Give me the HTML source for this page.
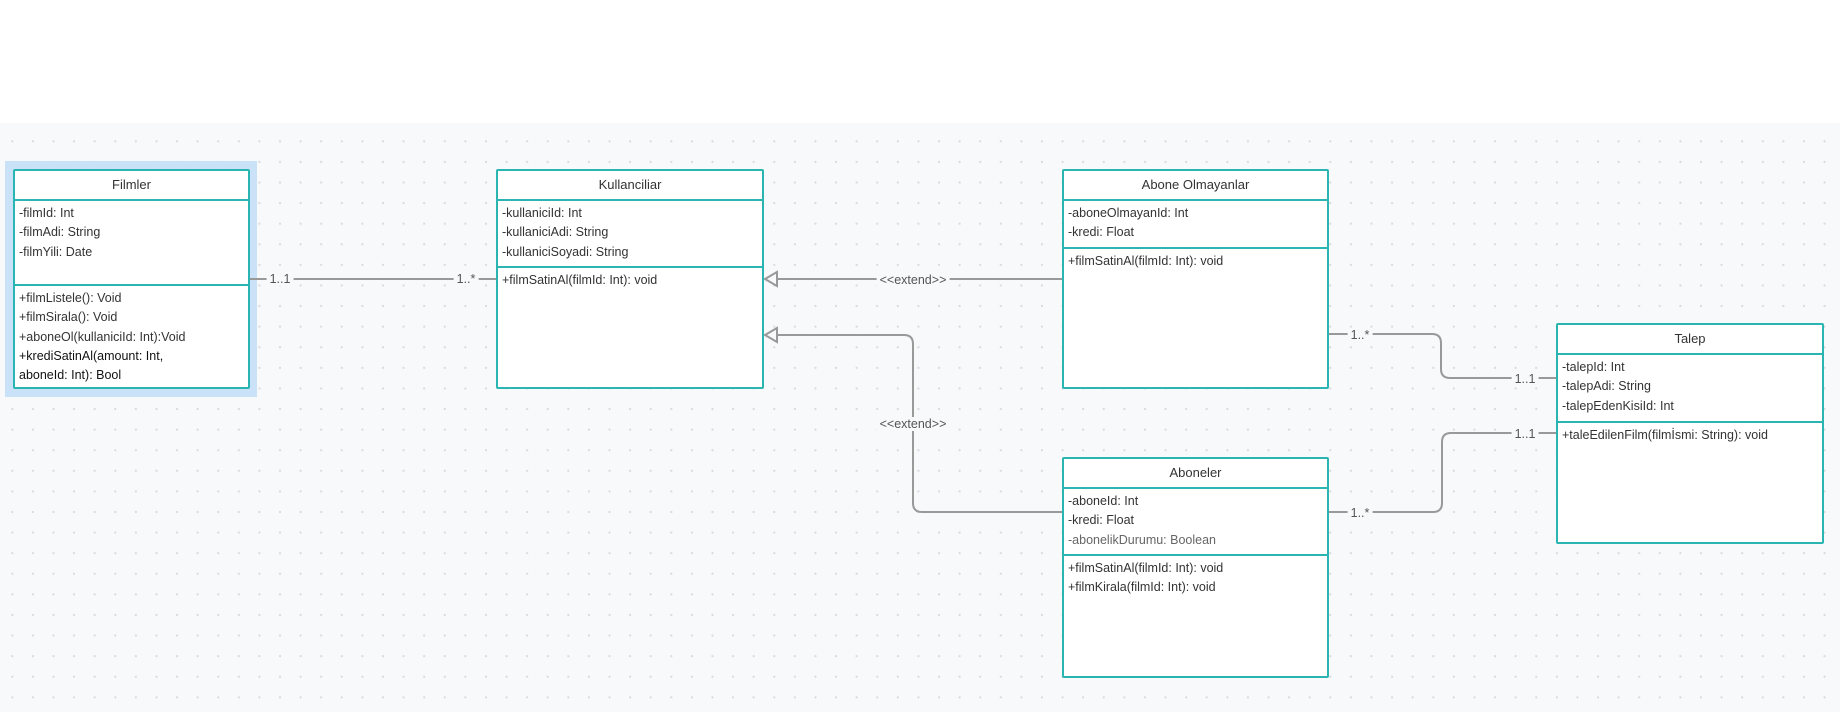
<!DOCTYPE html>
<html><head><meta charset="utf-8"><style>
body{margin:0;width:1840px;height:712px;background:#fff;position:relative;overflow:hidden;font-family:"Liberation Sans",sans-serif;}
#bg{position:absolute;left:0;top:123px;width:1840px;height:589px;background-color:#f8f9fb;background-image:radial-gradient(circle,#d9dbe0 1px,transparent 1.3px);background-size:20.6px 20.6px;background-position:2px 8px;}
.box{position:absolute;background:#fff;border:2px solid #2bb5b2;border-radius:2px;box-sizing:border-box;color:#333;font-size:12.5px;}
.hd{text-align:center;border-bottom:2px solid #2bb5b2;box-sizing:border-box;font-size:13px;}
.sec{padding:3px 4px;box-sizing:border-box;line-height:19.3px;white-space:nowrap;}
.sec.a{border-bottom:2px solid #2bb5b2;}
.lbl{position:absolute;font-size:12.5px;color:#555;background:#f8f9fb;padding:0 3px;transform:translate(-50%,-50%);white-space:nowrap;}
</style></head><body>
<div id="bg"></div>
<div style="position:absolute;left:5px;top:161px;width:252px;height:236px;background:#c9e2f8;"></div>
<svg style="position:absolute;left:0;top:0" width="1840" height="712">
<g fill="none" stroke="#999" stroke-width="2">
<line x1="250" y1="279" x2="496" y2="279"/>
<line x1="1062" y1="279" x2="776" y2="279"/>
<polygon points="765,279 777,272 777,286" fill="#f8f9fb"/>
<path d="M1062 512 H922 Q913 512 913 503 V344 Q913 335 904 335 H776"/>
<polygon points="765,335 777,328 777,342" fill="#f8f9fb"/>
<path d="M1329 334 H1432 Q1441 334 1441 343 V369 Q1441 378 1450 378 H1556"/>
<path d="M1329 512 H1433 Q1442 512 1442 503 V442 Q1442 433 1451 433 H1556"/>
</g></svg>
<div class="lbl" style="left:280px;top:279px">1..1</div>
<div class="lbl" style="left:466px;top:279px">1..*</div>
<div class="lbl" style="left:913px;top:280px">&lt;&lt;extend&gt;&gt;</div>
<div class="lbl" style="left:913px;top:424px">&lt;&lt;extend&gt;&gt;</div>
<div class="lbl" style="left:1360px;top:335px">1..*</div>
<div class="lbl" style="left:1525px;top:379px">1..1</div>
<div class="lbl" style="left:1360px;top:513px">1..*</div>
<div class="lbl" style="left:1525px;top:434px">1..1</div>

<div class="box" style="left:13px;top:169px;width:237px;height:220px">
<div class="hd" style="height:30px;line-height:28px">Filmler</div>
<div class="sec a" style="height:85px">-filmId: Int<br>-filmAdi: String<br>-filmYili: Date</div>
<div class="sec">+filmListele(): Void<br>+filmSirala(): Void<br>+aboneOl(kullaniciId: Int):Void<br><span style="color:#111">+krediSatinAl(amount: Int,<br>aboneId: Int): Bool</span></div>
</div>
<div class="box" style="left:496px;top:169px;width:268px;height:220px">
<div class="hd" style="height:30px;line-height:28px">Kullanciliar</div>
<div class="sec a" style="height:67px">-kullaniciId: Int<br>-kullaniciAdi: String<br>-kullaniciSoyadi: String</div>
<div class="sec">+filmSatinAl(filmId: Int): void</div>
</div>
<div class="box" style="left:1062px;top:169px;width:267px;height:220px">
<div class="hd" style="height:30px;line-height:28px">Abone Olmayanlar</div>
<div class="sec a" style="height:48px">-aboneOlmayanId: Int<br>-kredi: Float</div>
<div class="sec">+filmSatinAl(filmId: Int): void</div>
</div>
<div class="box" style="left:1556px;top:323px;width:268px;height:221px">
<div class="hd" style="height:30px;line-height:28px">Talep</div>
<div class="sec a" style="height:68px">-talepId: Int<br>-talepAdi: String<br>-talepEdenKisiId: Int</div>
<div class="sec">+taleEdilenFilm(filmİsmi: String): void</div>
</div>
<div class="box" style="left:1062px;top:457px;width:267px;height:221px">
<div class="hd" style="height:30px;line-height:28px">Aboneler</div>
<div class="sec a" style="height:67px">-aboneId: Int<br>-kredi: Float<br><span style="color:#666">-abonelikDurumu: Boolean</span></div>
<div class="sec">+filmSatinAl(filmId: Int): void<br>+filmKirala(filmId: Int): void</div>
</div>
</body></html>
